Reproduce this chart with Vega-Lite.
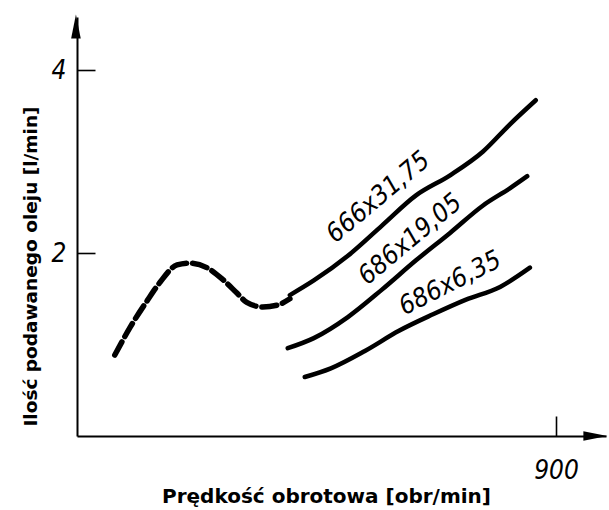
{
  "$schema": "https://vega.github.io/schema/vega-lite/v6.json",
  "width": 529,
  "height": 419,
  "autosize": "none",
  "padding": {"left": 77, "top": 17, "right": 3, "bottom": 74},
  "background": "white",
  "config": {
    "view": {"stroke": null},
    "axis": {
      "grid": false,
      "domainColor": "black",
      "domainWidth": 2,
      "tickColor": "black",
      "tickWidth": 1.6,
      "labelColor": "black",
      "labelFont": "DejaVu Sans Condensed, Liberation Sans Narrow, DejaVu Sans",
      "labelFontStyle": "italic",
      "labelFontSize": 26,
      "titleFont": "DejaVu Sans",
      "titleFontWeight": "bold",
      "titleColor": "black"
    }
  },
  "datasets": {
    "curves": [
      {"series": "666x31,75 (przerywana)", "obroty": 71, "wydatek": 0.885},
      {"series": "666x31,75 (przerywana)", "obroty": 100, "wydatek": 1.19},
      {"series": "666x31,75 (przerywana)", "obroty": 132, "wydatek": 1.48},
      {"series": "666x31,75 (przerywana)", "obroty": 156, "wydatek": 1.68},
      {"series": "666x31,75 (przerywana)", "obroty": 188, "wydatek": 1.87},
      {"series": "666x31,75 (przerywana)", "obroty": 212, "wydatek": 1.89},
      {"series": "666x31,75 (przerywana)", "obroty": 244, "wydatek": 1.84},
      {"series": "666x31,75 (przerywana)", "obroty": 274, "wydatek": 1.71},
      {"series": "666x31,75 (przerywana)", "obroty": 301, "wydatek": 1.56},
      {"series": "666x31,75 (przerywana)", "obroty": 319, "wydatek": 1.46},
      {"series": "666x31,75 (przerywana)", "obroty": 349, "wydatek": 1.41},
      {"series": "666x31,75 (przerywana)", "obroty": 376, "wydatek": 1.43},
      {"series": "666x31,75 (przerywana)", "obroty": 400, "wydatek": 1.50},
      {"series": "666x31,75", "obroty": 400, "wydatek": 1.54},
      {"series": "666x31,75", "obroty": 445, "wydatek": 1.70},
      {"series": "666x31,75", "obroty": 509, "wydatek": 1.97},
      {"series": "666x31,75", "obroty": 573, "wydatek": 2.30},
      {"series": "666x31,75", "obroty": 637, "wydatek": 2.63},
      {"series": "666x31,75", "obroty": 701, "wydatek": 2.85},
      {"series": "666x31,75", "obroty": 763, "wydatek": 3.11},
      {"series": "666x31,75", "obroty": 814, "wydatek": 3.41},
      {"series": "666x31,75", "obroty": 862, "wydatek": 3.67},
      {"series": "686x19,05", "obroty": 396, "wydatek": 0.96},
      {"series": "686x19,05", "obroty": 445, "wydatek": 1.07},
      {"series": "686x19,05", "obroty": 509, "wydatek": 1.30},
      {"series": "686x19,05", "obroty": 573, "wydatek": 1.60},
      {"series": "686x19,05", "obroty": 637, "wydatek": 1.92},
      {"series": "686x19,05", "obroty": 701, "wydatek": 2.22},
      {"series": "686x19,05", "obroty": 763, "wydatek": 2.52},
      {"series": "686x19,05", "obroty": 814, "wydatek": 2.71},
      {"series": "686x19,05", "obroty": 846, "wydatek": 2.84},
      {"series": "686x6,35", "obroty": 428, "wydatek": 0.645},
      {"series": "686x6,35", "obroty": 477, "wydatek": 0.74},
      {"series": "686x6,35", "obroty": 541, "wydatek": 0.93},
      {"series": "686x6,35", "obroty": 605, "wydatek": 1.15},
      {"series": "686x6,35", "obroty": 669, "wydatek": 1.33},
      {"series": "686x6,35", "obroty": 731, "wydatek": 1.49},
      {"series": "686x6,35", "obroty": 795, "wydatek": 1.63},
      {"series": "686x6,35", "obroty": 851, "wydatek": 1.84}
    ],
    "labels": [
      {"label": "666x31,75", "obroty": 566, "wydatek": 2.61},
      {"label": "686x19,05", "obroty": 626, "wydatek": 2.15},
      {"label": "686x6,35", "obroty": 701, "wydatek": 1.67}
    ],
    "arrows": [
      {"os": "y", "obroty": -2, "wydatek": 4.475},
      {"os": "x", "obroty": 974, "wydatek": 0}
    ]
  },
  "layer": [
    {
      "data": {"name": "curves"},
      "transform": [{"filter": "datum.series == '666x31,75 (przerywana)'"}],
      "mark": {"type": "line", "color": "black", "strokeWidth": 5.5, "strokeDash": [15, 6], "interpolate": "monotone", "strokeCap": "round"},
      "encoding": {
        "x": {"field": "obroty", "type": "quantitative", "scale": {"domain": [0, 994], "nice": false},
              "axis": {"values": [900], "format": "d", "tickSize": -20, "labelPadding": 41, "title": "Prędkość obrotowa [obr/min]", "titleFontSize": 20, "titleX": 249, "titleY": 66, "titleBaseline": "alphabetic"}},
        "y": {"field": "wydatek", "type": "quantitative", "scale": {"domain": [0, 4.58], "nice": false},
              "axis": {"values": [2, 4], "format": "d", "tickSize": -18, "labelPadding": 29, "title": "Ilość podawanego oleju [l/min]", "titleFontSize": 18.5, "titleX": -41, "titleY": 249, "titleBaseline": "alphabetic"}},
        "detail": {"field": "series"}
      }
    },
    {
      "data": {"name": "curves"},
      "transform": [{"filter": "datum.series != '666x31,75 (przerywana)'"}],
      "mark": {"type": "line", "color": "black", "strokeWidth": 4.5, "interpolate": "monotone", "strokeCap": "round"},
      "encoding": {
        "x": {"field": "obroty", "type": "quantitative"},
        "y": {"field": "wydatek", "type": "quantitative"},
        "detail": {"field": "series"}
      }
    },
    {
      "data": {"name": "labels"},
      "transform": [{"filter": "datum.label == '666x31,75'"}],
      "mark": {"type": "text", "angle": -40, "font": "DejaVu Sans Condensed, Liberation Sans Narrow, DejaVu Sans", "fontStyle": "italic", "fontSize": 26, "color": "black", "align": "center", "baseline": "middle"},
      "encoding": {"x": {"field": "obroty", "type": "quantitative"}, "y": {"field": "wydatek", "type": "quantitative"}, "text": {"field": "label"}}
    },
    {
      "data": {"name": "labels"},
      "transform": [{"filter": "datum.label == '686x19,05'"}],
      "mark": {"type": "text", "angle": -40, "font": "DejaVu Sans Condensed, Liberation Sans Narrow, DejaVu Sans", "fontStyle": "italic", "fontSize": 26, "color": "black", "align": "center", "baseline": "middle"},
      "encoding": {"x": {"field": "obroty", "type": "quantitative"}, "y": {"field": "wydatek", "type": "quantitative"}, "text": {"field": "label"}}
    },
    {
      "data": {"name": "labels"},
      "transform": [{"filter": "datum.label == '686x6,35'"}],
      "mark": {"type": "text", "angle": -27, "font": "DejaVu Sans Condensed, Liberation Sans Narrow, DejaVu Sans", "fontStyle": "italic", "fontSize": 26, "color": "black", "align": "center", "baseline": "middle"},
      "encoding": {"x": {"field": "obroty", "type": "quantitative"}, "y": {"field": "wydatek", "type": "quantitative"}, "text": {"field": "label"}}
    },
    {
      "data": {"name": "arrows"},
      "mark": {"type": "point", "filled": true, "color": "black", "opacity": 1, "size": 576},
      "encoding": {
        "x": {"field": "obroty", "type": "quantitative"},
        "y": {"field": "wydatek", "type": "quantitative"},
        "shape": {"field": "os", "type": "nominal", "scale": {"domain": ["x", "y"], "range": ["M1,0L-1,-0.4L-1,0.4Z", "M0,-1L0.4,1L-0.4,1Z"]}, "legend": null}
      }
    }
  ]
}
